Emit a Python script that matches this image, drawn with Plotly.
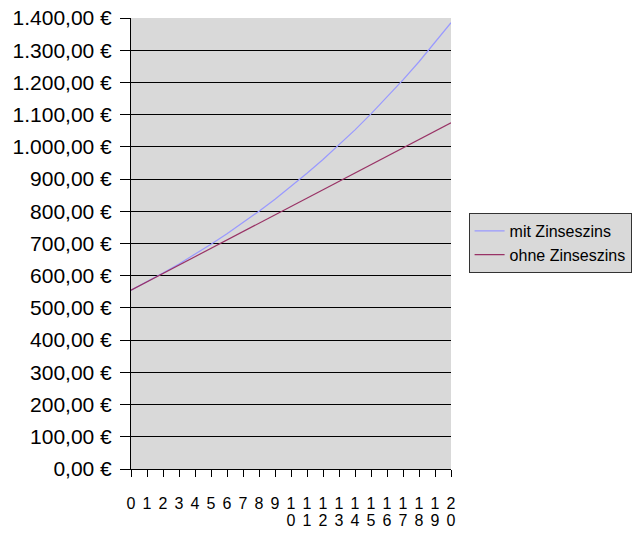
import plotly.graph_objects as go

jahre = list(range(0, 21))
mit_zinseszins = [555.00, 580.97, 608.16, 636.62, 666.41, 697.60, 730.25, 764.42, 800.19,
                  837.64, 876.84, 917.88, 960.83, 1005.80, 1052.87, 1102.14, 1153.72,
                  1207.71, 1264.23, 1323.40, 1385.33]
ohne_zinseszins = [555, 581, 607, 633, 659, 685, 711, 737, 763, 789, 815, 841, 867, 893,
                   919, 945, 971, 997, 1023, 1049, 1075]
x_labels_line1 = [str(j)[0] for j in jahre]
x_labels_line2 = [str(j)[1] if j >= 10 else "" for j in jahre]

fig = go.Figure()
fig.add_trace(go.Scatter(x=jahre, y=mit_zinseszins, mode="lines", name="mit Zinseszins",
                         line=dict(color="#9999ff", width=1.2)))
fig.add_trace(go.Scatter(x=jahre, y=ohne_zinseszins, mode="lines", name="ohne Zinseszins",
                         line=dict(color="#993366", width=1.2)))
# invisible helper trace so the second label row (xaxis2) is drawn
fig.add_trace(go.Scatter(x=jahre, y=ohne_zinseszins, xaxis="x2", mode="lines",
                         line=dict(color="rgba(0,0,0,0)", width=0), showlegend=False,
                         hoverinfo="skip"))

fig.update_layout(
    width=634, height=539,
    margin=dict(l=131, r=183, t=18, b=70, pad=0, autoexpand=False),
    paper_bgcolor="white",
    plot_bgcolor="#d9d9d9",
    separators=",.",
    font=dict(family="Liberation Sans, Arial, sans-serif", color="black"),
    showlegend=True,
    legend=dict(x=1.055, y=0.5676, xanchor="left", yanchor="top",
                bgcolor="#d9d9d9", bordercolor="#333333", borderwidth=1,
                font=dict(size=16), tracegroupgap=0, itemwidth=30),
    xaxis=dict(range=[0, 20], tickmode="array", tickvals=jahre, ticktext=x_labels_line1,
               showgrid=False, zeroline=False, showline=True, linecolor="black", linewidth=1,
               ticks="outside", ticklen=7, tickcolor="black", tickfont=dict(size=16),
               tickangle=0, ticklabelstandoff=13, automargin=False),
    xaxis2=dict(range=[0, 20], overlaying="x", side="bottom", anchor="y",
                tickmode="array", tickvals=jahre, ticktext=x_labels_line2,
                showgrid=False, zeroline=False, showline=False, ticks="",
                tickfont=dict(size=16), tickangle=0, ticklabelstandoff=40, automargin=False),
    yaxis=dict(range=[0, 1400], dtick=100, tickformat=",.2f", ticksuffix=" €",
               showgrid=True, gridcolor="black", gridwidth=1, zeroline=False,
               showline=True, linecolor="black", linewidth=1,
               ticks="outside", ticklen=10, tickcolor="black", tickfont=dict(size=21),
               ticklabelstandoff=4, automargin=False),
)

fig.write_html("out.html", config={"displayModeBar": False},
               post_script="document.body.style.margin='0';")
